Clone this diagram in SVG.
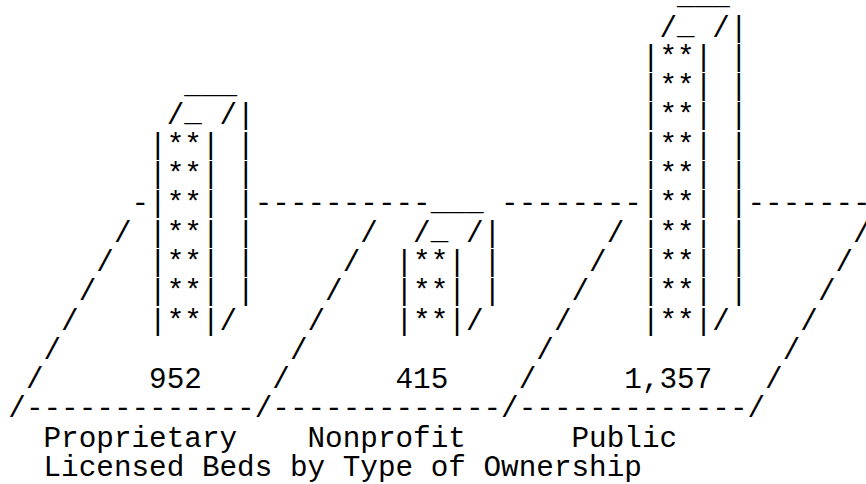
<svg xmlns="http://www.w3.org/2000/svg" width="866" height="484" viewBox="0 0 866 484">
<style>
text{font-family:"Liberation Mono","DejaVu Sans Mono",monospace;font-size:29.333px;fill:#000;white-space:pre}
</style>
<rect width="866" height="484" fill="#fff"/>
<g id="platform">
<text x="131.5" y="212.3">-</text>
<text x="254.7" y="212.3">----------</text>
<text x="501.1" y="212.3">--------</text>
<text x="747.5" y="212.3">-------</text>
<text x="113.9" y="241.6">/</text><text x="360.3" y="241.6">/</text><text x="606.7" y="241.6">/</text><text x="853.1" y="241.6">/</text>
<text x="96.3" y="270.9">/</text><text x="342.7" y="270.9">/</text><text x="589.1" y="270.9">/</text><text x="835.5" y="270.9">/</text>
<text x="78.7" y="300.2">/</text><text x="325.1" y="300.2">/</text><text x="571.5" y="300.2">/</text><text x="817.9" y="300.2">/</text>
<text x="61.1" y="329.5">/</text><text x="307.5" y="329.5">/</text><text x="553.9" y="329.5">/</text><text x="800.3" y="329.5">/</text>
<text x="43.5" y="358.8">/</text><text x="289.9" y="358.8">/</text><text x="536.3" y="358.8">/</text><text x="782.7" y="358.8">/</text>
<text x="25.9" y="388.1">/</text><text x="272.3" y="388.1">/</text><text x="518.7" y="388.1">/</text><text x="765.1" y="388.1">/</text>
<text x="8.3" y="417.4">/-------------/-------------/-------------/</text>
</g>
<g id="bar-proprietary">
<text x="184.3" y="92.6">___</text>
<text x="166.7" y="124.4">/<tspan dy="-3">_</tspan><tspan dy="3"> /|</tspan></text>
<text x="149.1" y="153.7">|**| |</text>
<text x="149.1" y="183.0">|**| |</text>
<text x="149.1" y="212.3">|**| |</text>
<text x="149.1" y="241.6">|**| |</text>
<text x="149.1" y="270.9">|**| |</text>
<text x="149.1" y="300.2">|**| |</text>
<text x="149.1" y="329.5">|**|/</text>
</g>
<g id="bar-nonprofit">
<text x="430.7" y="209.8">___</text>
<text x="413.1" y="241.6">/<tspan dy="-3">_</tspan><tspan dy="3"> /|</tspan></text>
<text x="395.5" y="270.9">|**| |</text>
<text x="395.5" y="300.2">|**| |</text>
<text x="395.5" y="329.5">|**|/</text>
</g>
<g id="bar-public">
<text x="677.1" y="4.4">___</text>
<text x="659.5" y="36.5">/<tspan dy="-3">_</tspan><tspan dy="3"> /|</tspan></text>
<text x="641.9" y="65.8">|**| |</text>
<text x="641.9" y="95.1">|**| |</text>
<text x="641.9" y="124.4">|**| |</text>
<text x="641.9" y="153.7">|**| |</text>
<text x="641.9" y="183.0">|**| |</text>
<text x="641.9" y="212.3">|**| |</text>
<text x="641.9" y="241.6">|**| |</text>
<text x="641.9" y="270.9">|**| |</text>
<text x="641.9" y="300.2">|**| |</text>
<text x="641.9" y="329.5">|**|/</text>
</g>
<g id="values">
<text x="149.1" y="388.1">952</text>
<text x="395.5" y="388.1">415</text>
<text x="624.3" y="388.1">1,357</text>
</g>
<g id="labels">
<text x="43.5" y="446.7">Proprietary</text>
<text x="307.5" y="446.7">Nonprofit</text>
<text x="571.5" y="446.7">Public</text>
</g>
<g id="title">
<text x="43.5" y="475.5">Licensed Beds by Type of Ownership</text>
</g>
</svg>
